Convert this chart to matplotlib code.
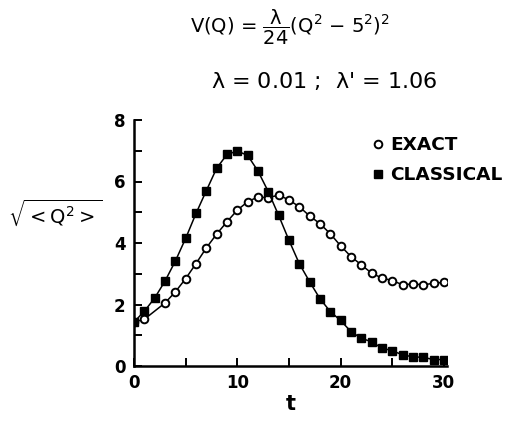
import numpy as np
import matplotlib
matplotlib.use("Agg")
import matplotlib.pyplot as plt

# values
t_classical = list(range(0, 31))
q_classical = [1.43, 1.78, 2.21, 2.76, 3.41, 4.15, 4.96, 5.70, 6.43, 6.88,
               6.99, 6.85, 6.34, 5.67, 4.90, 4.09, 3.33, 2.74, 2.19, 1.77,
               1.48, 1.12, 0.90, 0.79, 0.58, 0.50, 0.36, 0.30, 0.28, 0.21, 0.21]

t_exact = [0, 1] + list(range(3, 31))
q_exact = [1.43, 1.52, 2.05, 2.41, 2.84, 3.33, 3.84, 4.29, 4.69, 5.07,
           5.34, 5.50, 5.47, 5.56, 5.40, 5.18, 4.88, 4.63, 4.30, 3.91,
           3.56, 3.29, 3.02, 2.86, 2.78, 2.64, 2.67, 2.64, 2.69, 2.72]

plt.rcParams["font.family"] = ["DejaVu Sans"]
plt.rcParams["mathtext.default"] = "regular"

fig = plt.figure(figsize=(5.06, 4.21), dpi=100)
ax = fig.add_axes([134 / 506, 1 - 366 / 421, (447 - 134) / 506, (366 - 120) / 421])

ax.plot(t_exact, q_exact, "-", color="black", lw=1.1, marker="o", ms=5.5,
        mfc="white", mec="black", mew=1.4, label="EXACT", zorder=2)
ax.plot(t_classical, q_classical, "-", color="black", lw=1.1, marker="s", ms=6.3,
        mfc="black", mec="black", label="CLASSICAL", zorder=3)

ax.set_xlim(0, 30.3)
ax.set_ylim(0, 8)
ax.set_xticks([0, 10, 20, 30])
ax.set_xticks([5, 15, 25], minor=True)
ax.set_yticks([0, 2, 4, 6, 8])
ax.set_yticks([1, 3, 5, 7], minor=True)
ax.tick_params(which="both", direction="in", length=6, width=1.4, labelsize=12, pad=6)
for lab in ax.get_xticklabels() + ax.get_yticklabels():
    lab.set_fontweight("bold")
for s in ["top", "right"]:
    ax.spines[s].set_visible(False)
for s in ["left", "bottom"]:
    ax.spines[s].set_linewidth(1.8)

fig.text(0.5 * (134 + 447) / 506, 1 - 404 / 421, "t", fontsize=15,
         fontweight="bold", ha="center", va="center")
fig.text(0.11, 0.494, r"$\sqrt{<Q^2>}$", fontsize=14, ha="center", va="center")

fig.text(0.573, 1 - 27 / 421, r"V(Q) = $\dfrac{\lambda}{24}$(Q$^2$ $-$ 5$^2$)$^2$",
         fontsize=14, ha="center", va="center")
fig.text(0.64, 1 - 81 / 421, r"$\lambda$ = 0.01 ;  $\lambda$' = 1.06",
         fontsize=16, ha="center", va="center")

leg = fig.legend(loc="upper left", bbox_to_anchor=(0.706, 0.716), frameon=False,
                 handlelength=0.4, handletextpad=0.5, labelspacing=0.65,
                 prop={"size": 13.3, "weight": "bold"})
for h in leg.legend_handles:
    h.set_linestyle("none")

fig.savefig("out.png", dpi=100)
